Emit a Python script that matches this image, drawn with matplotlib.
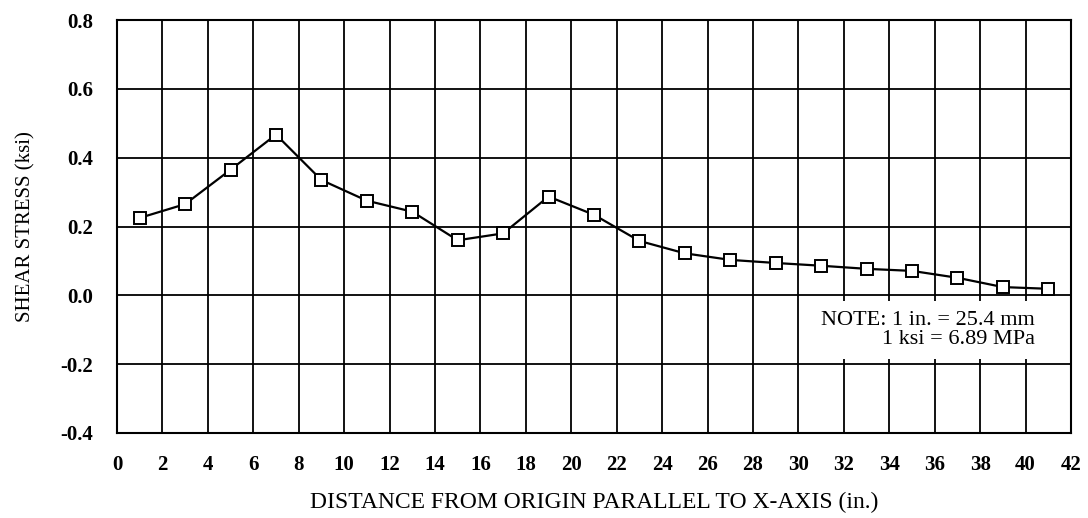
import matplotlib.pyplot as plt

plt.rcParams['font.family'] = ['Liberation Serif', 'DejaVu Serif']

# Data
distance = [1, 3, 5, 7, 9, 11, 13, 15, 17, 19, 21,
            23, 25, 27, 29, 31, 33, 35, 37, 39, 41]
shearStress = [0.225, 0.265, 0.365, 0.467, 0.335, 0.275, 0.243, 0.160, 0.180, 0.287, 0.234,
               0.158, 0.122, 0.103, 0.094, 0.086, 0.077, 0.071, 0.051, 0.024, 0.019]
xTicks = list(range(0, 43, 2))
yTicks = [-0.4, -0.2, 0.0, 0.2, 0.4, 0.6, 0.8]

fig = plt.figure(figsize=(10.88, 5.18), dpi=100)
ax = fig.add_axes([117 / 1088, 1 - 433 / 518, (1071 - 117) / 1088, (433 - 20) / 518])

ax.plot(distance, shearStress, color='black', linewidth=1.6,
        marker='s', markersize=8, markerfacecolor='white',
        markeredgecolor='black', markeredgewidth=1.4, zorder=3)

ax.set_xlim(0, 42)
ax.set_ylim(-0.4, 0.8)
ax.set_xticks(xTicks)
ax.set_yticks(yTicks)
ax.set_yticklabels([f'{v:.1f}' for v in yTicks])
ax.tick_params(axis='x', length=0, pad=16, labelsize=15)
ax.tick_params(axis='y', length=0, pad=17, labelsize=15)
for lbl in ax.get_xticklabels() + ax.get_yticklabels():
    lbl.set_fontweight('bold')

ax.grid(True, color='black', linewidth=1.3)
for s in ax.spines.values():
    s.set_linewidth(1.5)

ax.set_xlabel('DISTANCE FROM ORIGIN PARALLEL TO X-AXIS (in.)', fontsize=17, labelpad=12)
ax.set_ylabel('SHEAR STRESS (ksi)', fontsize=15, labelpad=18)

# Note box
ax.text(0.962, 0.295, 'NOTE: 1 in. = 25.4 mm\n1 ksi = 6.89 MPa', transform=ax.transAxes,
        ha='right', va='top', fontsize=16, linespacing=1.0, multialignment='right',
        bbox=dict(facecolor='white', edgecolor='none', pad=7), zorder=4)

fig.savefig('out.png', dpi=100)
